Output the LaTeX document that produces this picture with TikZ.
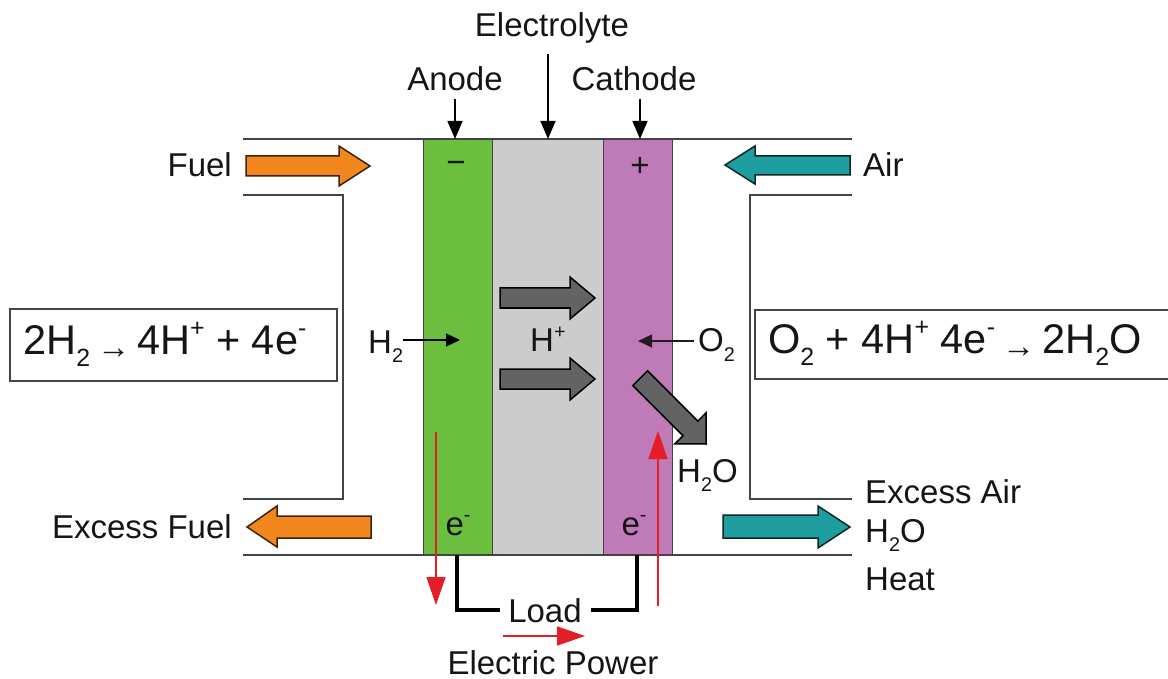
\documentclass[tikz,border=0pt]{standalone}
\usepackage{fontspec}
\usepackage{graphicx}
\setmainfont{Liberation Sans}
\usetikzlibrary{arrows.meta}
\definecolor{anodegreen}{HTML}{6CBF3E}
\definecolor{cathpurple}{HTML}{BF7AB8}
\definecolor{elecgray}{HTML}{CCCCCC}
\definecolor{fuelorange}{HTML}{F2871F}
\definecolor{airteal}{HTML}{1E9E9E}
\definecolor{ionarrow}{HTML}{636363}
\definecolor{linegray}{HTML}{444444}
\definecolor{ered}{HTML}{E41E26}
\definecolor{txt}{HTML}{151515}
\newcommand\dn[1]{\raisebox{-0.3em}{\scalebox{0.6}{#1}}}
\newcommand\up[1]{\raisebox{0.42em}{\scalebox{0.6}{#1}}}
\newcommand\smarrow{\,\raisebox{-0.1em}{\scalebox{0.8}{→}}\,}
\begin{document}
\begin{tikzpicture}[x=1pt,y=-1pt,
  lbl/.style={font=\fontsize{33}{38}\selectfont, text=txt, inner sep=0pt},
  eqn/.style={font=\fontsize{41.5}{46}\selectfont, text=txt, inner sep=0pt},
  layer/.style={draw=linegray, line width=1.3pt, minimum width=#1, minimum height=416pt, anchor=north west, inner sep=0pt},
  pipe/.style={draw=linegray, line width=2pt},
  eqbox/.style={draw=linegray, line width=2pt},
  pointer/.style={draw=black, line width=1.5pt, -{Triangle[length=18pt,width=15pt]}},
  small pointer/.style={line width=1.2pt, -{Triangle[length=14pt,width=13pt]}},
  flow/.style={line width=1.6pt, draw=ered, -{Triangle[length=28pt,width=19pt]}},
  wire/.style={draw=black, line width=3.5pt, line cap=butt},
  orangeblk/.style={fill=fuelorange, draw=black!75!fuelorange, line width=1.5pt, line join=miter},
  tealblk/.style={fill=airteal, draw=black!75!airteal, line width=1.5pt, line join=miter},
  grayblk/.style={fill=ionarrow, draw=black, line width=1.5pt, line join=miter}]
\useasboundingbox (0,0) rectangle (1168,679);

% cell layers
\node[layer=69pt, fill=anodegreen] (anode) at (423,139) {};
\node[layer=111pt, fill=elecgray] (elec) at (492,139) {};
\node[layer=69pt, fill=cathpurple] (cathode) at (603,139) {};

% housing lines
\draw[pipe] (243,139) -- (852,139);
\draw[pipe] (243,555) -- (852,555);
\draw[pipe] (243,195) -- (343,195) -- (343,499) -- (243,499);
\draw[pipe] (852,195) -- (750,195) -- (750,499) -- (852,499);

% equation boxes
\draw[eqbox] (10,309) rectangle (337,381);
\draw[eqbox] (1168,310) -- (755,310) -- (755,379) -- (1168,379);
\node[eqn, anchor=base west] (eqleft) at (23,354) {2H\dn{2}\smarrow 4H\up{+} + 4e\up{-}};
\node[eqn, anchor=base west] (eqright) at (768,353) {O\dn{2} + 4H\up{+} 4e\up{-}\smarrow 2H\dn{2}O};

% top labels and pointers
\node[lbl, anchor=base] (ellbl) at (552,37) {Electrolyte};
\node[lbl, anchor=base] (anlbl) at (455,91) {Anode};
\node[lbl, anchor=base] (catlbl) at (634,91) {Cathode};
\coordinate (antop) at (455,139);
\coordinate (eltop) at (548,139);
\coordinate (cattop) at (640,139);
\draw[pointer] (antop |- anlbl.south) ++(0,7) -- (antop);
\draw[pointer] (eltop |- ellbl.south) ++(0,10) -- (eltop);
\draw[pointer] (cattop |- catlbl.south) ++(0,7) -- (cattop);
\node[lbl] (minus) at (456,167) {−};
\node[lbl] (plus) at (640,167) {+};

% fuel / air block arrows
\node[lbl, anchor=base east] (fuel) at (232,177) {Fuel};
\draw[orangeblk] (246,156) -- (339,156) -- (339,146) -- (370,166) -- (339,186) -- (339,176) -- (246,176) -- cycle;
\node[lbl, anchor=base west] (air) at (863,177) {Air};
\draw[tealblk] (850,156) -- (755,156) -- (755,146) -- (725,165) -- (755,184) -- (755,175) -- (850,175) -- cycle;
\node[lbl, anchor=base east] (exfuel) at (232,538) {Excess Fuel};
\draw[orangeblk] (371,516) -- (277,516) -- (277,506) -- (247,527) -- (277,547) -- (277,538) -- (371,538) -- cycle;
\draw[tealblk] (723,515) -- (818,515) -- (818,506) -- (850,527) -- (818,548) -- (818,538) -- (723,538) -- cycle;
\node[lbl, anchor=base west] (exair) at (865,503) {Excess Air};
\node[lbl, anchor=base west] (exh2o) at (865,542) {H\dn{2}O};
\node[lbl, anchor=base west] (heat) at (865,590) {Heat};

% species
\node[lbl, anchor=base west] (h2) at (368,353) {H\dn{2}};
\coordinate (h2tip) at (460,340);
\draw[small pointer, draw=black] (h2.east |- h2tip) -- (h2tip);
\node[lbl, anchor=base west] (hplus) at (530,352) {H\up{+}};
\node[lbl, anchor=base west] (o2) at (698,352) {O\dn{2}};
\coordinate (o2tip) at (638,341);
\draw[small pointer, draw=black!80!cathpurple] ([xshift=-4pt]o2.west |- o2tip) -- (o2tip);
\node[lbl, anchor=base west] (h2o) at (677,482) {H\dn{2}O};

% ion arrows
\draw[grayblk] (500,288) -- (570,288) -- (570,277) -- (595,298) -- (570,319) -- (570,308) -- (500,308) -- cycle;
\draw[grayblk] (500,369) -- (570,369) -- (570,358) -- (595,379) -- (570,400) -- (570,389) -- (500,389) -- cycle;
\draw[grayblk] (647.6,370.8) -- (697.8,421.0) -- (706.0,412.9) -- (706,444) -- (674.9,443.9) -- (683.0,435.8) -- (632.8,385.6) -- cycle;

% electrons and load circuit
\node[lbl, anchor=base] (ean) at (458,535) {e\up{-}};
\node[lbl, anchor=base] (ecat) at (634,535) {e\up{-}};
\node[lbl, anchor=base] (load) at (545,622) {Load};
\coordinate (wa) at (457,555);
\coordinate (wc) at (637,555);
\draw[wire] (wa) |- ([xshift=-8pt]load.west);
\draw[wire] ([xshift=9pt]load.east) -| (wc);

% electron flow arrows
\coordinate (rastart) at (436,432);
\coordinate (raend) at (436,605);
\draw[flow] (rastart) -- (raend);
\coordinate (rcstart) at (658,606);
\coordinate (rcend) at (658,431);
\draw[flow] (rcstart) -- (rcend);
\node[lbl, anchor=base] (power) at (553,674) {Electric Power};
\coordinate (pstart) at (503,636);
\coordinate (pend) at (585,636);
\draw[flow] (pstart) -- (pend);
\end{tikzpicture}
\end{document}
